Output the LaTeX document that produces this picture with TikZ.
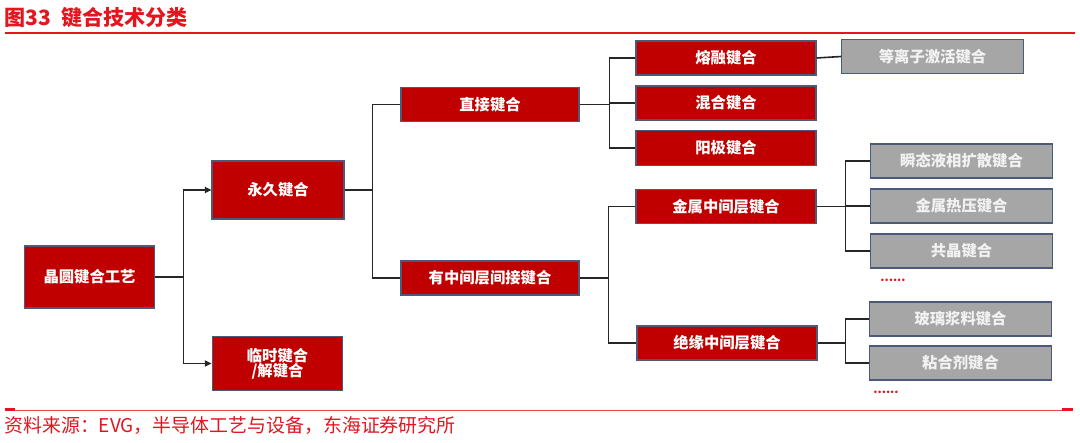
\documentclass[tikz,border=0pt]{standalone}
\usepackage{fontspec}
\setmainfont{Noto Sans CJK SC}
\usetikzlibrary{arrows.meta}
\definecolor{boxred}{HTML}{C00000}
\definecolor{boxgray}{HTML}{A6A6A6}
\definecolor{edgeblue}{HTML}{4A5A78}
\definecolor{titlered}{HTML}{E3151F}
\definecolor{linkgray}{HTML}{262626}

\begin{document}
\begin{tikzpicture}[x=0.75pt, y=-0.75pt,
  every text node part/.style={align=center},
  redbox/.style={draw=edgeblue, line width=0.8pt, fill=boxred, text=white, inner sep=0pt,
    font=\fontsize{11.5}{13}\selectfont\bfseries},
  graybox/.style={draw=edgeblue, line width=0.8pt, fill=boxgray, text=white!95!black, inner sep=0pt,
    minimum width=136pt, minimum height=25.5pt, font=\fontsize{11.5}{13}\selectfont\bfseries},
  link/.style={draw=linkgray, line width=1.2pt},
  more/.style={text=titlered, font=\fontsize{9}{9}\selectfont\bfseries, inner sep=0pt}]
\useasboundingbox (0,0) rectangle (1080,442);
% title and rules
\node [anchor=west, text=titlered, font=\fontsize{15.8}{17}\selectfont\bfseries, inner sep=0pt] (title) at (4,18) {图33\hspace{0.5em}键合技术分类};
\draw [titlered, line width=1.8pt] (5,33) -- (1075,33);
\draw [titlered!80, line width=0.7pt] (5,410) -- (1073,410);
\draw [titlered, line width=1.8pt] (5,409.5) -- (15,409.5);
\draw [titlered, line width=1.8pt] (1062,409.5) -- (1073,409.5);
\node [anchor=west, text=titlered, font=\fontsize{14.2}{15}\selectfont, inner sep=0pt] (source) at (4,425) {资料来源：EVG，半导体工艺与设备，东海证券研究所};
% first levels
\node [redbox, minimum width=98pt, minimum height=46.5pt] (wafer) at (89.5,277) {晶圆键合工艺};
\node [redbox, minimum width=99pt, minimum height=43.5pt] (perm) at (278,190) {永久键合};
\node [redbox, minimum width=98pt, minimum height=40pt] (temp) at (277.5,363.5) {临时键合\\[-2pt]/解键合};
\node [redbox, minimum width=133.5pt, minimum height=25pt] (direct) at (490,104.5) {直接键合};
\node [redbox, minimum width=133.5pt, minimum height=25.5pt] (inter) at (490,278) {有中间层间接键合};
% second level
\node [redbox, minimum width=135pt, minimum height=25.5pt] (fusion) at (726,58) {熔融键合};
\node [redbox, minimum width=135pt, minimum height=25.5pt] (hybrid) at (726,103) {混合键合};
\node [redbox, minimum width=135pt, minimum height=26pt] (anodic) at (726,148) {阳极键合};
\node [redbox, minimum width=135pt, minimum height=26pt] (metal) at (726,206.5) {金属中间层键合};
\node [redbox, minimum width=135pt, minimum height=25.5pt] (insul) at (727,343) {绝缘中间层键合};
% third level
\node [graybox] (plasma) at (932.5,56.5) {等离子激活键合};
\node [graybox] (tlp) at (961.5,161) {瞬态液相扩散键合};
\node [graybox] (thermo) at (961.5,206) {金属热压键合};
\node [graybox] (eutectic) at (961.5,251) {共晶键合};
\node [more] (moremetal) at (893,280) {......};
\node [graybox] (glass) at (960.5,319) {玻璃浆料键合};
\node [graybox] (adhesive) at (960.5,363) {粘合剂键合};
\node [more] (moreinsul) at (886,392) {......};
% connectors
\draw [link, -{Triangle[length=5pt, width=4.5pt]}] (wafer.east) -- ++(28,0) |- (perm.west);
\draw [link, -{Triangle[length=5pt, width=4.5pt]}] (wafer.east) -- ++(28,0) |- (temp.west);
\draw [link] (perm.east) -- ++(28,0) |- (direct.west);
\draw [link] (perm.east) -- ++(28,0) |- (inter.west);
\draw [link] (direct.east) -- ++(30,0) |- (fusion.west);
\draw [link] (direct.east) -- ++(30,0) |- (hybrid.west);
\draw [link] (direct.east) -- ++(30,0) |- (anodic.west);
\draw [link] (fusion.east) -- (plasma.west);
\draw [link] (inter.east) -- ++(29,0) |- (metal.west);
\draw [link] (inter.east) -- ++(29,0) |- (insul.west);
\draw [link] (metal.east) -- ++(29,0) |- (tlp.west);
\draw [link] (metal.east) -- ++(29,0) |- (thermo.west);
\draw [link] (metal.east) -- ++(29,0) |- (eutectic.west);
\draw [link] (insul.east) -- ++(28,0) |- (glass.west);
\draw [link] (insul.east) -- ++(28,0) |- (adhesive.west);
\end{tikzpicture}
\end{document}
